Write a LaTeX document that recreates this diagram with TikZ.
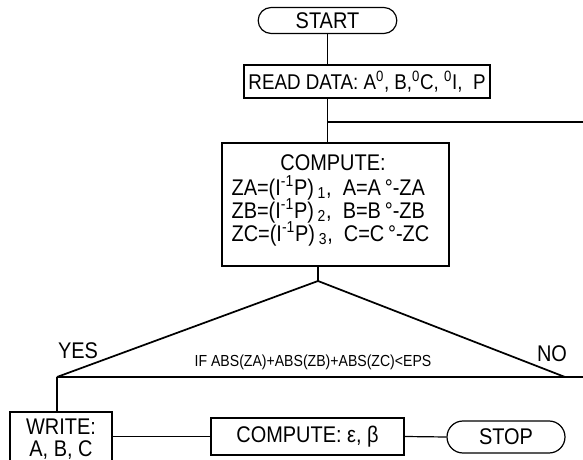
\documentclass[tikz,border=0pt]{standalone}
\usepackage{fontspec}
\setmainfont[FakeStretch=0.88]{Liberation Sans}
\usetikzlibrary{shapes.misc}
\begin{document}
\begin{tikzpicture}[x=0.75pt,y=-0.75pt,line width=0.9pt,
  font=\fontsize{17}{19}\selectfont,
  box/.style={draw,rectangle,inner sep=0pt},
  term/.style={draw,rounded rectangle,inner sep=0pt},
  lbl/.style={inner sep=0pt},
  small/.style={inner sep=0pt,font=\fontsize{12}{14}\selectfont}]
\useasboundingbox (0,0) rectangle (583,460);
\clip (0,0) rectangle (583,460);
% nodes
\node[term,minimum width=104pt,minimum height=19.5pt] (start) at (327.5,20.5) {START};
\node[box,minimum width=184.5pt,minimum height=24.75pt,font=\fontsize{16}{18}\selectfont] (read) at (367,81.5)
  {READ DATA: A\textsuperscript{0}, B,\textsuperscript{0}C, \textsuperscript{0}I,\ \ P};
\node[box,minimum width=170.25pt,minimum height=92.25pt] (comp) at (335.5,204.5) {};
\node[lbl] (ct) at (333,163) {COMPUTE:};
\node[lbl,anchor=west] (l1) at (231,188) {ZA=(I\textsuperscript{-1}P)\,\textsubscript{1},\ \ A=A\,°-ZA};
\node[lbl,anchor=west] (l2) at (231,211) {ZB=(I\textsuperscript{-1}P)\,\textsubscript{2},\ \ B=B\,°-ZB};
\node[lbl,anchor=west] (l3) at (231,234) {ZC=(I\textsuperscript{-1}P)\,\textsubscript{3},\ \ C=C\,°-ZC};
\coordinate (apex) at (318,281);
\coordinate (lv) at (57,377);
\coordinate (rv) at (565,377);
\coordinate (redge) at (583,377);
\coordinate (j) at (327,122);
\coordinate (jr) at (583,122);
\node[lbl] (yes) at (78,351) {YES};
\node[lbl] (no) at (552,354) {NO};
\node[small] (cond) at (313,362) {IF ABS(ZA)+ABS(ZB)+ABS(ZC)<EPS};
\node[box,minimum width=76.5pt,minimum height=45pt] (write) at (61,442) {};
\node[lbl] (wt1) at (61,427) {WRITE:};
\node[lbl] (wt2) at (61,450) {A, B, C};
\node[box,minimum width=144.75pt,minimum height=27.75pt] (eps) at (307.5,436.5) {COMPUTE: ε, β};
\node[term,minimum width=88.5pt,minimum height=24pt] (stop) at (506,437) {STOP};
% connectors
\draw (start.south) -- (start.south |- read.north);
\draw (start.south |- read.south) -- (start.south |- comp.north);
\draw (j) -- (jr);
\draw (apex |- comp.south) -- (apex);
\draw[line width=1.3pt] (lv) -- (apex) -- (rv);
\draw (lv) -- (redge);
\draw (lv) -- (lv |- write.north);
\draw (write.east |- eps.west) -- (eps.west);
\draw (eps.east) -- (stop.west);
\end{tikzpicture}
\end{document}
